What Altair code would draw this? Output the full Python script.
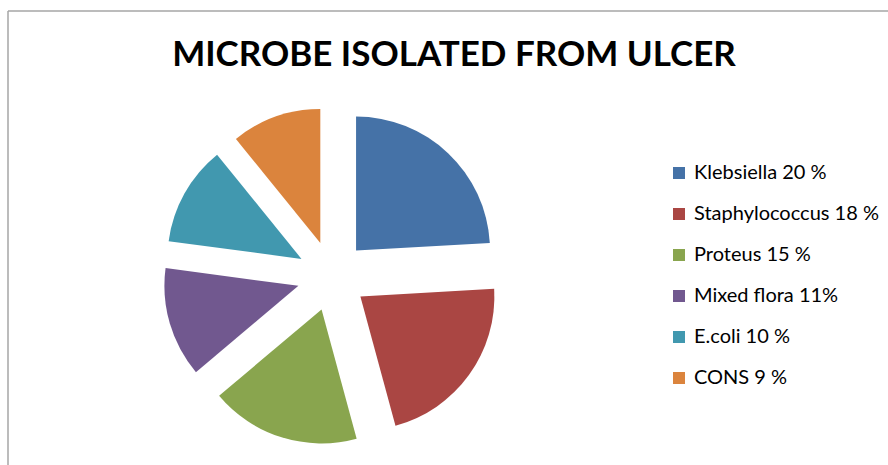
import altair as alt
import pandas as pd

title_text = "MICROBE ISOLATED FROM ULCER"
categories = ["Klebsiella 20 %", "Staphylococcus 18 %", "Proteus 15 %",
              "Mixed flora 11%", "E.coli 10 %", "CONS 9 %"]
values = [20, 18, 15, 11, 10, 9]
colors = ["#4572A7", "#AA4643", "#89A54E", "#71588F", "#4198AF", "#DB843D"]

df = pd.DataFrame({"label": categories, "value": values,
                   "order": list(range(len(categories)))})

CX, CY, EXPLODE, R = 324, 265, 35, 134

base = (
    alt.Chart(df)
    .transform_joinaggregate(total="sum(value)")
    .transform_window(cum="sum(value)", sort=[alt.SortField("order")], frame=[None, 0])
    .transform_calculate(
        start="2*PI*(datum.cum-datum.value)/datum.total",
        end="2*PI*datum.cum/datum.total",
    )
    .transform_calculate(mid="(datum.start+datum.end)/2")
    .transform_calculate(
        px=f"{CX}+{EXPLODE}*sin(datum.mid)",
        py=f"{CY}-{EXPLODE}*cos(datum.mid)",
    )
)

pie = base.mark_arc(radius=R).encode(
    theta=alt.Theta("start:Q", scale=None),
    theta2="end:Q",
    x=alt.X("px:Q", scale=None, axis=None),
    y=alt.Y("py:Q", scale=None, axis=None),
    color=alt.Color(
        "label:N",
        scale=alt.Scale(domain=categories, range=colors),
        sort=categories,
        legend=alt.Legend(
            title=None, orient="none", legendX=661, legendY=152,
            symbolType="square", symbolSize=144, symbolStrokeWidth=0,
            symbolOpacity=1, labelFont="Lato", labelFontSize=20,
            labelColor="black", rowPadding=21, padding=0, labelOffset=5,
            labelLimit=400,
        ),
    ),
)

one = alt.Chart(pd.DataFrame({"k": [0]}))
border = one.mark_rule(color="#a6a6a6", strokeWidth=1.5)
left = border.encode(x=alt.value(0), y=alt.value(0), y2=alt.value(460))
top = border.encode(y=alt.value(0), x=alt.value(0), x2=alt.value(880))

title = one.mark_text(
    font="Lato", fontSize=35, fontWeight="bold", color="black",
    align="center", baseline="alphabetic",
).encode(x=alt.value(446), y=alt.value(55), text=alt.value(title_text))

chart = (
    alt.layer(left, top, title, pie)
    .properties(
        width=880, height=454,
        padding={"left": 8, "top": 11, "right": 0, "bottom": 0},
        autosize=alt.AutoSizeParams(type="none"),
    )
    .configure_view(stroke=None)
)

chart.save("out.html", embed_options={"renderer": "svg", "actions": False})
